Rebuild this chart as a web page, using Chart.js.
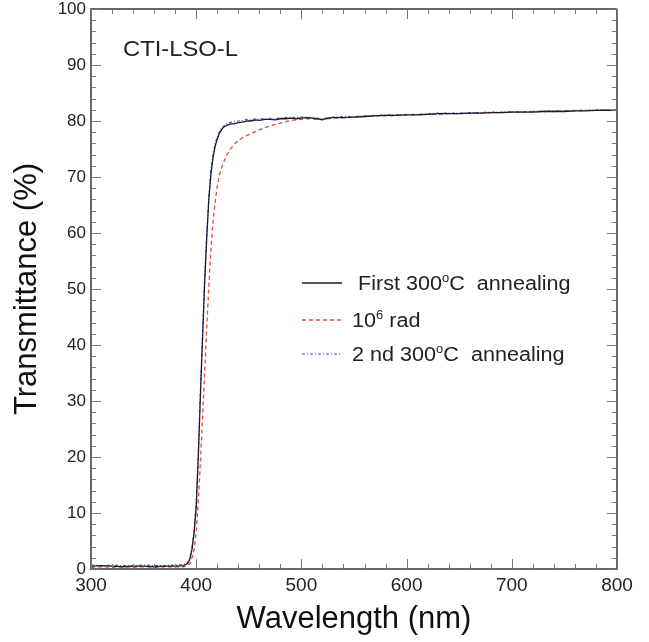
<!DOCTYPE html>
<html>
<head>
<meta charset="utf-8">
<script src="https://cdn.jsdelivr.net/npm/chart.js@4/dist/chart.umd.min.js"></script>
<style>
  html, body { margin: 0; padding: 0; background: #fff; }
  canvas { display: block; }
</style>
</head>
<body>
<canvas id="chart" width="649" height="642"></canvas>
<script>
// wavelength (nm)
const wavelength = [300,310,320,330,340,350,360,370,380,388,392,394,396,398,400,402,404,406,408,410,
  412,414,416,418,420,422,424,426,428,430,433,436,440,444,448,452,456,460,465,470,
  475,480,485,490,495,500,505,510,515,520,525,530,540,550,560,570,580,590,600,610,
  620,630,640,650,660,670,680,690,700,710,720,730,740,750,760,770,780,790,800];

// transmittance (%)
const firstAnneal = [0.5,0.6,0.5,0.4,0.5,0.5,0.4,0.5,0.5,0.6,1.0,1.8,3.5,6.5,11,20,31,41,51,59,
  66,70.5,73.5,75.5,76.8,77.8,78.4,78.9,79.1,79.3,79.5,79.5,79.7,79.8,80.0,80.0,80.2,80.1,80.3,80.3,
  80.2,80.4,80.4,80.5,80.4,80.5,80.6,80.5,80.4,80.2,80.5,80.6,80.6,80.7,80.8,80.9,81.0,81.0,81.1,81.1,
  81.2,81.3,81.3,81.3,81.4,81.4,81.5,81.5,81.6,81.6,81.6,81.7,81.7,81.7,81.8,81.8,81.9,81.9,81.9];

const irradiated = [0.3,0.4,0.3,0.4,0.3,0.4,0.3,0.4,0.4,0.4,0.6,1.0,2.0,3.5,6.5,12,19,27,35,43,
  50.5,57,62,65.5,68.3,70.3,71.6,72.6,73.5,74.2,75.1,75.8,76.5,77.0,77.4,77.7,78.1,78.4,78.8,79.1,
  79.4,79.6,79.9,80.1,80.2,80.3,80.4,80.4,80.3,80.3,80.4,80.5,80.6,80.7,80.8,80.9,80.9,81.0,81.1,81.1,
  81.2,81.2,81.3,81.3,81.4,81.4,81.5,81.5,81.6,81.6,81.7,81.7,81.7,81.8,81.8,81.9,81.9,82.0,82.0];

const secondAnneal = [0.7,0.6,0.7,0.6,0.6,0.7,0.6,0.6,0.7,0.8,1.2,2.0,3.8,7.0,12,21,32,42,52,60,
  66.5,71.5,74,76,77.2,78.1,78.7,79.1,79.4,79.6,79.8,79.9,80.0,80.1,80.3,80.2,80.4,80.3,80.5,80.5,
  80.4,80.6,80.6,80.7,80.6,80.7,80.7,80.6,80.5,80.4,80.6,80.7,80.8,80.8,80.9,81.0,81.1,81.1,81.2,81.2,
  81.3,81.4,81.4,81.4,81.5,81.5,81.6,81.6,81.7,81.7,81.7,81.8,81.8,81.8,81.9,81.9,82.0,82.0,82.0];

const xTicks = [300, 400, 500, 600, 700, 800];
const yTicks = [0, 10, 20, 30, 40, 50, 60, 70, 80, 90, 100];

const FONT = '"Liberation Sans", Arial, sans-serif';
const AXIS = '#666';
const TEXT = '#222';
const STRETCH = 1.08; // the source figure's text is a bit wider than Arial

function toPoints(ys) {
  return wavelength.map((x, i) => ({ x: x, y: ys[i] }));
}

// inner ticks on all four sides + top/right frame lines
const framePlugin = {
  id: 'frame',
  afterDraw(chart) {
    const ctx = chart.ctx;
    const a = chart.chartArea;
    const xs = chart.scales.x, ys = chart.scales.y;
    ctx.save();
    ctx.strokeStyle = AXIS;
    ctx.lineWidth = 2;
    ctx.beginPath();
    ctx.moveTo(a.left, a.top); ctx.lineTo(a.right, a.top);
    ctx.moveTo(a.right, a.top); ctx.lineTo(a.right, a.bottom);
    ctx.stroke();

    ctx.lineWidth = 1;
    ctx.strokeStyle = '#777';
    ctx.beginPath();
    for (let v = 300; v <= 800; v += 20) {
      const px = Math.round(xs.getPixelForValue(v)) + 0.5;
      const len = v % 100 === 0 ? 10 : 5;
      ctx.moveTo(px, a.bottom); ctx.lineTo(px, a.bottom - len);
      ctx.moveTo(px, a.top); ctx.lineTo(px, a.top + len);
    }
    for (let v = 0; v <= 100; v += 2) {
      const py = Math.round(ys.getPixelForValue(v)) + 0.5;
      const len = v % 10 === 0 ? 10 : 5;
      ctx.moveTo(a.left, py); ctx.lineTo(a.left + len, py);
      ctx.moveTo(a.right, py); ctx.lineTo(a.right - len, py);
    }
    ctx.stroke();
    ctx.restore();
  }
};

// text with superscript parts: [[text, isSup], ...]
function drawRich(ctx, parts, x, y, size) {
  ctx.save();
  ctx.translate(x, y);
  ctx.scale(STRETCH, 1);
  let cx = 0;
  parts.forEach(p => {
    if (p[1]) {
      ctx.font = Math.round(size * 0.62) + 'px ' + FONT;
      ctx.fillText(p[0], cx, -size * 0.42);
    } else {
      ctx.font = size + 'px ' + FONT;
      ctx.fillText(p[0], cx, 0);
    }
    cx += ctx.measureText(p[0]).width;
  });
  ctx.restore();
}

const labelPlugin = {
  id: 'labels',
  afterDraw(chart) {
    const ctx = chart.ctx;
    ctx.save();
    ctx.fillStyle = TEXT;
    ctx.textBaseline = 'alphabetic';
    ctx.textAlign = 'left';
    drawRich(ctx, [['CTI-LSO-L', false]], 123, 56, 22);

    const rows = [
      { y: 290, ds: 0, parts: [[' First 300', false], ['o', true], ['C  annealing', false]] },
      { y: 327, ds: 1, parts: [['10', false], ['6', true], [' rad', false]] },
      { y: 361, ds: 2, parts: [['2 nd 300', false], ['o', true], ['C  annealing', false]] }
    ];
    rows.forEach(r => {
      const d = chart.data.datasets[r.ds];
      ctx.strokeStyle = d.borderColor;
      ctx.lineWidth = d.borderWidth;
      ctx.setLineDash(d.borderDash || []);
      ctx.beginPath();
      ctx.moveTo(302, r.y - 7); ctx.lineTo(342, r.y - 7);
      ctx.stroke();
      ctx.setLineDash([]);
      ctx.fillStyle = TEXT;
      drawRich(ctx, r.parts, 352, r.y, 20);
    });
    ctx.restore();
  }
};

const ctx = document.getElementById('chart').getContext('2d');
new Chart(ctx, {
  type: 'scatter',
  data: {
    datasets: [
      { label: 'First 300°C annealing', data: toPoints(firstAnneal), showLine: true,
        borderColor: '#1b1b2e', borderWidth: 1.3, pointRadius: 0, tension: 0 },
      { label: '10^6 rad', data: toPoints(irradiated), showLine: true,
        borderColor: '#e8463c', borderWidth: 1.3, borderDash: [4, 3], pointRadius: 0, tension: 0 },
      { label: '2 nd 300°C annealing', data: toPoints(secondAnneal), showLine: true,
        borderColor: '#4a4ac8', borderWidth: 1.1, borderDash: [3, 2, 1, 2], pointRadius: 0, tension: 0 }
    ]
  },
  options: {
    responsive: false,
    animation: false,
    layout: { padding: { top: 9, right: 32, left: 0, bottom: 0 } },
    plugins: { legend: { display: false }, tooltip: { enabled: false } },
    scales: {
      x: {
        type: 'linear', min: 300, max: 800,
        afterFit: s => { s.height = 73; s.paddingLeft = 0; s.paddingRight = 0; },
        afterBuildTicks: s => { s.ticks = xTicks.map(v => ({ value: v })); },
        grid: { display: false, drawTicks: false },
        border: { display: true, color: AXIS, width: 2 },
        ticks: { color: TEXT, font: { family: FONT, size: 19 }, padding: 5, maxRotation: 0 },
        title: { display: true, text: 'Wavelength (nm)', color: '#111',
                 font: { family: FONT, size: 31 }, padding: { top: 0, bottom: 4 } }
      },
      y: {
        type: 'linear', min: 0, max: 100,
        afterFit: s => { s.width = 91; s.paddingTop = 0; s.paddingBottom = 0; },
        afterBuildTicks: s => { s.ticks = yTicks.map(v => ({ value: v })); },
        grid: { display: false, drawTicks: false },
        border: { display: true, color: AXIS, width: 2 },
        ticks: { color: TEXT, font: { family: FONT, size: 17 }, padding: 5 },
        title: { display: true, text: 'Transmittance (%)', color: '#111',
                 font: { family: FONT, size: 31 }, padding: { top: 9, bottom: 0 } }
      }
    }
  },
  plugins: [framePlugin, labelPlugin]
});
</script>
</body>
</html>
